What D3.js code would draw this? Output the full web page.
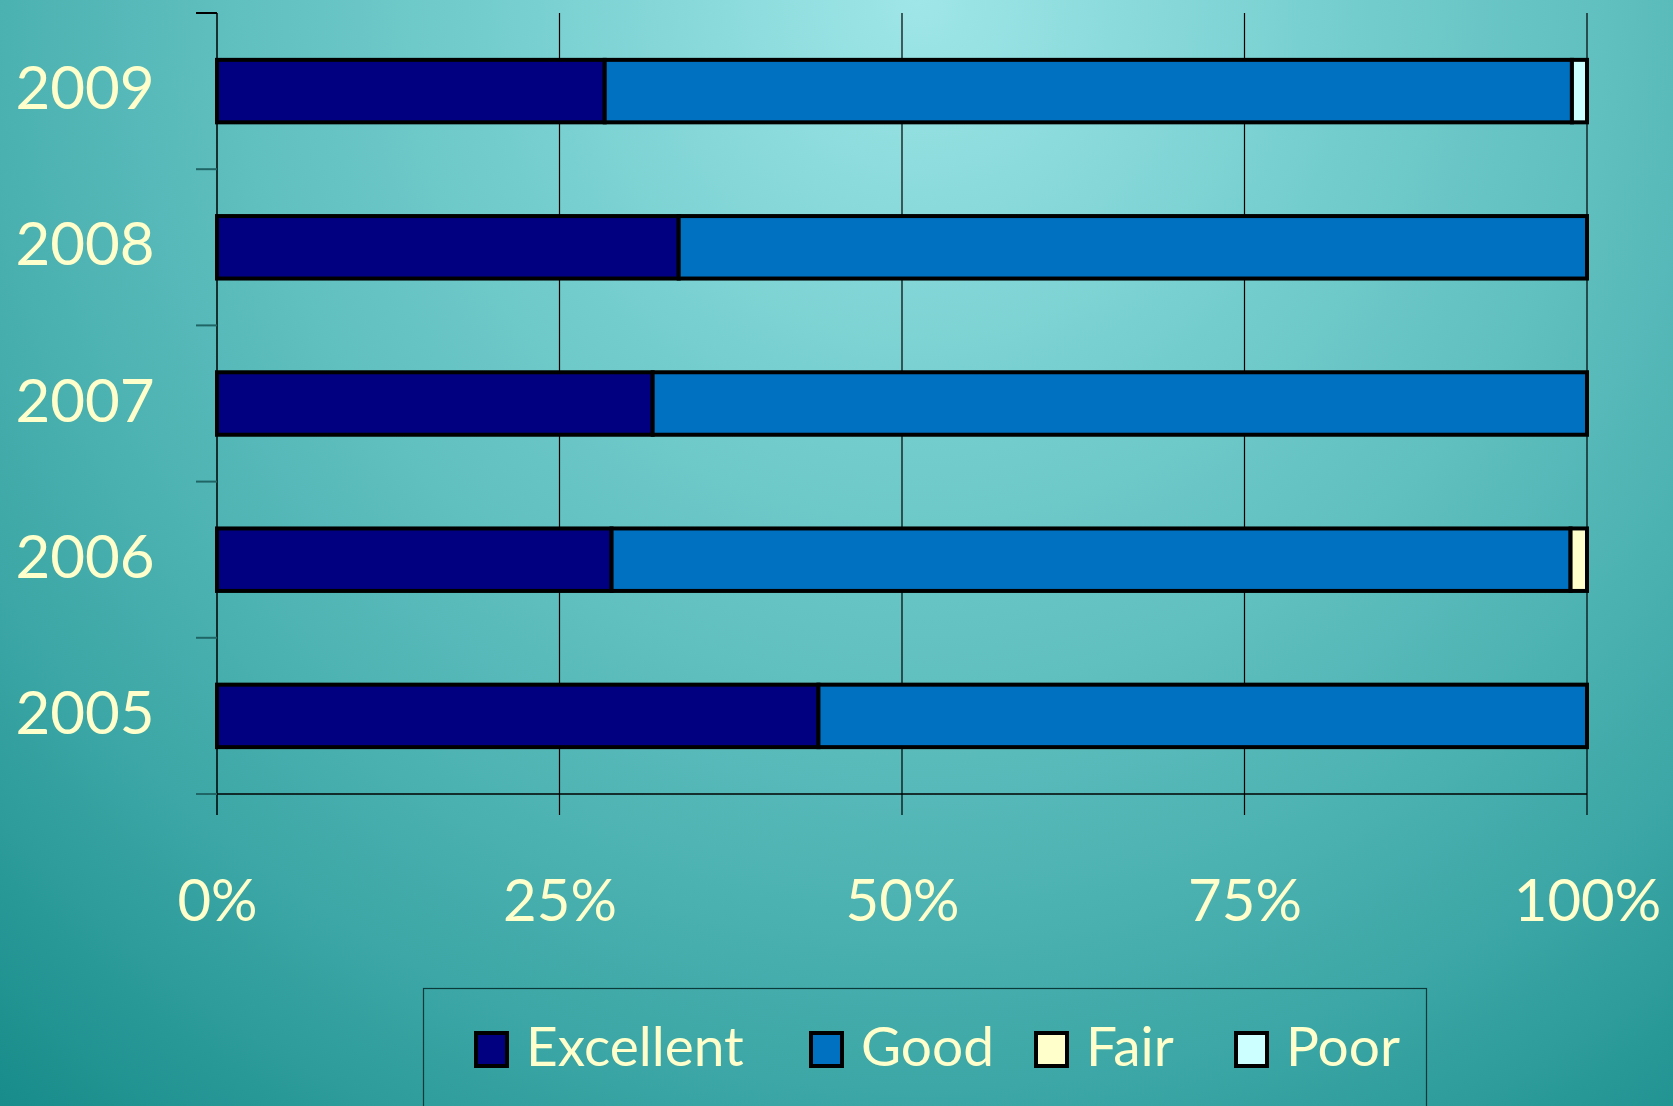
<!DOCTYPE html>
<html>
<head>
<meta charset="utf-8">
<script src="https://cdn.jsdelivr.net/npm/d3@7"></script>
<style>
  html, body { margin: 0; padding: 0; overflow: hidden; }
  svg { display: block; }
  text { font-family: "Comic Sans MS", "Lato", "DejaVu Sans", sans-serif; fill: #FFFFCC; }
</style>
</head>
<body>
<svg id="chart" width="1673" height="1106"></svg>
<script>
// ---- data ----
const years = ["2009", "2008", "2007", "2006", "2005"];
const seriesNames = ["Excellent", "Good", "Fair", "Poor"];
const excellent = [28.3, 33.7, 31.8, 28.8, 43.9];
const good      = [70.6, 66.3, 68.2, 70.0, 56.1];
const fair      = [0,    0,    0,    1.2,  0];
const poor      = [1.1,  0,    0,    0,    0];
const tickValues = [0, 25, 50, 75, 100];
const tickLabels = ["0%", "25%", "50%", "75%", "100%"];
const colors = ["#000080", "#0070C0", "#FFFFCC", "#CCFFFF"];

// ---- setup ----
const W = 1673, H = 1106;
const svg = d3.select("#chart");
const defs = svg.append("defs");
const grad = defs.append("radialGradient").attr("id", "bg")
  .attr("gradientUnits", "userSpaceOnUse")
  .attr("cx", 920).attr("cy", 0).attr("r", 1450);
[[0, "#9fe6e8"], [0.3, "#74cdcd"], [0.5, "#5dbdbd"], [0.75, "#3ca7a6"], [1, "#168b89"]]
  .forEach(([o, c]) => grad.append("stop").attr("offset", o).attr("stop-color", c));
svg.append("rect").attr("width", W).attr("height", H).attr("fill", "url(#bg)");

const pL = 217, pR = 1587, pT = 13, pB = 794;
const x = d3.scaleLinear().domain([0, 100]).range([pL, pR]);
const y = d3.scaleBand().domain(years).range([pT, pB]).paddingInner(0.6).paddingOuter(0.3);

// table for stack
const table = years.map((yr, i) => ({
  year: yr, Excellent: excellent[i], Good: good[i], Fair: fair[i], Poor: poor[i]
}));
const stacked = d3.stack().keys(seriesNames)(table);

// gridlines (vertical) extending below axis as ticks
svg.append("g").selectAll("line").data(tickValues.slice(1)).join("line")
  .attr("x1", d => x(d)).attr("x2", d => x(d))
  .attr("y1", pT).attr("y2", pB + 21)
  .attr("stroke", "#000").attr("stroke-width", 1.2);

// left axis line
svg.append("line").attr("x1", pL).attr("x2", pL).attr("y1", pT).attr("y2", pB + 21)
  .attr("stroke", "#000").attr("stroke-width", 1.5);
// bottom axis line
svg.append("line").attr("x1", pL - 21).attr("x2", pR).attr("y1", pB).attr("y2", pB)
  .attr("stroke", "#000").attr("stroke-width", 1.5);
// category boundary ticks
const boundaries = d3.range(years.length + 1).map(i => pT + i * (pB - pT) / years.length);
svg.append("g").selectAll("line").data(boundaries).join("line")
  .attr("x1", pL - 21).attr("x2", pL)
  .attr("y1", d => d).attr("y2", d => d)
  .attr("stroke", (d, i) => i === 0 ? "#000" : "#1f6566").attr("stroke-width", 2);

// bars
const gBars = svg.append("g");
stacked.forEach((s, k) => {
  gBars.append("g").selectAll("rect")
    .data(s.filter(d => d[1] - d[0] > 0))
    .join("rect")
    .attr("x", d => x(d[0]))
    .attr("width", d => x(d[1]) - x(d[0]))
    .attr("y", d => y(d.data.year))
    .attr("height", y.bandwidth())
    .attr("fill", colors[k])
    .attr("stroke", "#000")
    .attr("stroke-width", 4);
});

// year labels
svg.append("g").selectAll("text").data(years).join("text")
  .attr("x", 85).attr("y", d => y(d) + y.bandwidth() / 2 - 5)
  .attr("text-anchor", "middle").attr("dominant-baseline", "central")
  .attr("font-size", 60)
  .text(d => d);

// x axis labels via d3 axis
const xAxis = d3.axisBottom(x).tickValues(tickValues).tickSize(0)
  .tickFormat((d, i) => tickLabels[i]);
const gx = svg.append("g").attr("transform", `translate(0, ${pB})`).call(xAxis);
gx.select(".domain").remove();
gx.selectAll("text")
  .attr("y", 104).attr("dy", null)
  .attr("dominant-baseline", "central")
  .attr("font-size", 58)
  .attr("fill", "#FFFFCC")
  .style("font-family", '"Comic Sans MS", "Lato", sans-serif');

// legend
const lg = svg.append("g");
lg.append("rect").attr("x", 423.5).attr("y", 988.5).attr("width", 1003).attr("height", 140)
  .attr("fill", "none").attr("stroke", "#0a3a3a").attr("stroke-width", 1.2);
const legendX = [474, 809, 1034, 1234];
seriesNames.forEach((name, i) => {
  const g = lg.append("g").attr("transform", `translate(${legendX[i]}, 1031)`);
  g.append("rect").attr("x", 2).attr("y", 2).attr("width", 31).attr("height", 33)
    .attr("fill", colors[i]).attr("stroke", "#000").attr("stroke-width", 4);
  g.append("text").attr("x", 52).attr("y", 14).attr("dominant-baseline", "central")
    .attr("font-size", 55).text(name);
});
</script>
</body>
</html>
